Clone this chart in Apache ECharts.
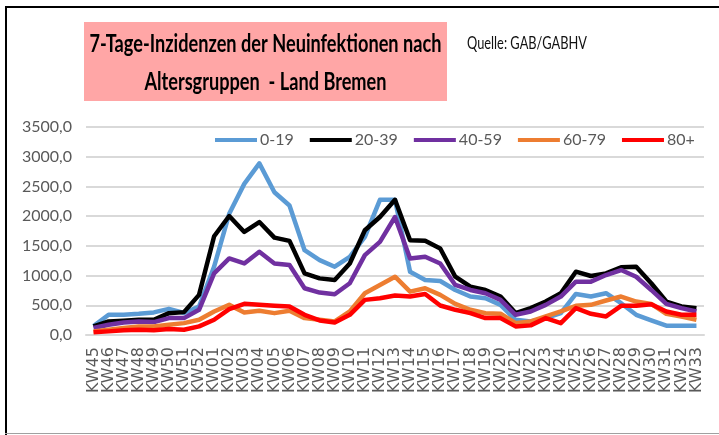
<!DOCTYPE html>
<html><head><meta charset="utf-8">
<script src="https://cdn.jsdelivr.net/npm/echarts@6/dist/echarts.min.js"></script>
<style>html,body{margin:0;padding:0;background:#fff}#c{width:719px;height:435px}</style>
</head><body><div id="c"></div>
<script>
const categories = ["KW45","KW46","KW47","KW48","KW49","KW50","KW51","KW52","KW01","KW02","KW03","KW04","KW05","KW06","KW07","KW08","KW09","KW10","KW11","KW12","KW13","KW14","KW15","KW16","KW17","KW18","KW19","KW20","KW21","KW22","KW23","KW24","KW25","KW26","KW27","KW28","KW29","KW30","KW31","KW32","KW33"];
const seriesNames = ["0-19","20-39","40-59","60-79","80+"];
const age0_19 = [150,340,340,357,380,440,370,480,1150,2040,2543,2888,2403,2180,1427,1260,1149,1316,1650,2275,2275,1065,926,909,758,647,619,507,256,229,284,368,691,647,703,535,340,245,156,156,156];
const age20_39 = [145,229,240,256,256,368,385,675,1662,2002,1734,1901,1639,1584,1037,953,926,1204,1762,1985,2275,1595,1584,1455,981,814,758,647,368,452,563,703,1065,993,1037,1138,1149,870,563,480,452];
const age40_59 = [117,173,212,229,217,284,284,424,1037,1288,1204,1400,1204,1177,786,714,686,870,1344,1567,1985,1288,1316,1204,842,758,703,591,340,396,507,647,898,898,1009,1093,981,758,524,452,396];
const age60_79 = [61,89,117,145,145,173,200,256,396,507,380,407,368,407,284,256,229,396,703,842,981,730,786,675,524,424,368,357,200,229,312,396,491,507,580,647,563,524,357,312,256];
const age80plus = [45,61,78,89,78,100,89,145,256,435,524,507,491,480,340,245,212,340,591,619,664,647,691,496,424,368,284,284,145,162,284,200,452,357,312,491,491,519,396,340,340];
const titleLine1 = "7-Tage-Inzidenzen der Neuinfektionen nach";
const titleLine2 = "Altersgruppen  - Land Bremen";
const sourceText = "Quelle: GAB/GABHV";

const colors = ["#5B9BD5","#000000","#7030A0","#ED7D31","#FF0000"];
const values = [age0_19, age20_39, age40_59, age60_79, age80plus];

const cv = document.createElement('canvas').getContext('2d');
function measure(txt, font){ cv.font = font; return cv.measureText(txt).width; }
const tFont = 'bold 24px Lato';
const s1 = 352 / measure(titleLine1, tFont);
const s2 = 242 / measure(titleLine2, tFont);
const qFont = '17px Lato';
const sq = 120 / measure(sourceText, qFont);

const chart = echarts.init(document.getElementById('c'), null, {renderer:'canvas'});
chart.setOption({
  animation:false,
  backgroundColor:'#fff',
  color: colors,
  grid:{left:86, right:15, top:127, bottom:100, containLabel:false},
  legend:{
    left:215, top:132, padding:0, itemWidth:42, itemHeight:4, itemGap:16, icon:'rect',
    textStyle:{fontFamily:'Lato', fontSize:16, color:'#595959', padding:[0,0,0,-2]},
    data: seriesNames
  },
  xAxis:{
    type:'category', data:categories, boundaryGap:true,
    axisLine:{lineStyle:{color:'#d9d9d9', width:2}},
    axisTick:{show:false},
    axisLabel:{rotate:90, interval:0, fontFamily:'DejaVu Sans', fontSize:16, color:'#595959', margin:12}
  },
  yAxis:{
    type:'value', min:0, max:3500, interval:500,
    axisLine:{show:false}, axisTick:{show:false},
    splitLine:{lineStyle:{color:'#d9d9d9', width:2}},
    axisLabel:{fontFamily:'Lato', fontSize:16, color:'#595959', margin:14,
      formatter: v => v.toFixed(1).replace('.', ',')}
  },
  series: seriesNames.map((n,i)=>({
    name:n, type:'line', data:values[i], symbol:'none', showSymbol:false,
    lineStyle:{width:4.5, color:colors[i], join:'round'}, itemStyle:{color:colors[i]}
  })),
  graphic:[
    {type:'rect', shape:{x:84, y:22, width:363, height:79}, style:{fill:'#ffa6a6'}, z:0},
    {type:'text', x:265.5, y:44, scaleX:s1, style:{text:titleLine1, font:tFont, fill:'#000', align:'center', verticalAlign:'middle'}, z:1},
    {type:'text', x:265.5, y:82, scaleX:s2, style:{text:titleLine2, font:tFont, fill:'#000', align:'center', verticalAlign:'middle'}, z:1},
    {type:'text', x:467, y:44, scaleX:sq, style:{text:sourceText, font:qFont, fill:'#111', align:'left', verticalAlign:'middle'}, z:1},
    {type:'rect', shape:{x:5, y:6, width:714, height:2}, style:{fill:'#000'}},
    {type:'rect', shape:{x:5, y:6, width:2, height:429}, style:{fill:'#000'}},
    {type:'rect', shape:{x:5, y:433, width:714, height:1}, style:{fill:'#a0a0a0'}}
  ]
});
</script></body></html>
